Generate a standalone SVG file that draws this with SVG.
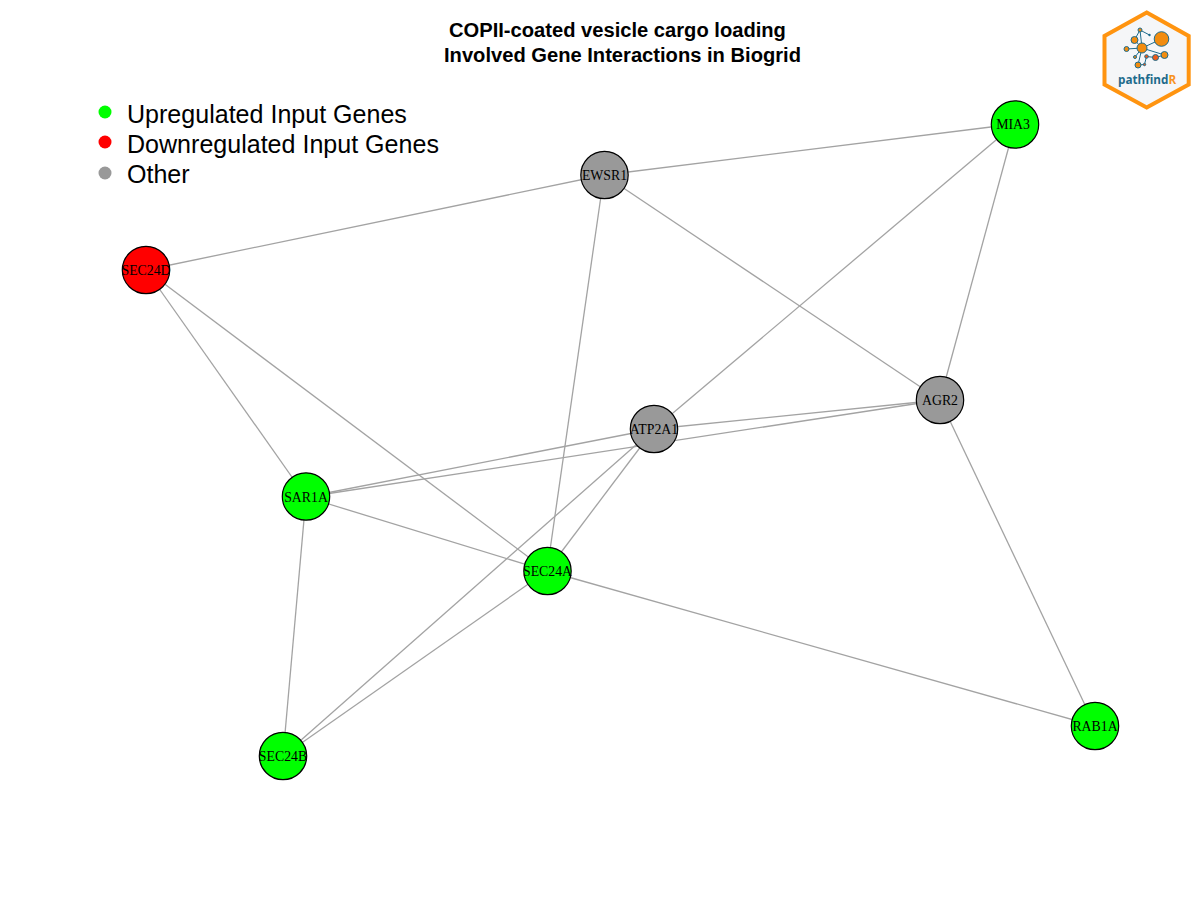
<svg xmlns="http://www.w3.org/2000/svg" width="1200" height="900" viewBox="0 0 1200 900">
<style>
.e{stroke:#a3a3a3;stroke-width:1.3;fill:none}
.n{stroke:#000;stroke-width:1.2}
.up{fill:#00ff00}.down{fill:#ff0000}.other{fill:#999999}
.nl{font-family:"Liberation Serif",serif;font-size:13.8px;text-anchor:middle;fill:#000}
.lg{font-family:"Liberation Sans",sans-serif;font-size:25.05px;fill:#000}
.t{font-family:"Liberation Sans",sans-serif;font-size:20.15px;font-weight:bold;fill:#000}
.ll{stroke:#1d6b8c;stroke-width:1;fill:none}
.lo{fill:#f28c0f;stroke:#1d6b8c;stroke-width:1}
.lr{fill:#ee5a1a;stroke:#1d6b8c;stroke-width:1}
</style>
<rect width="1200" height="900" fill="#fff"/>
<g id="title">
<text class="t" x="449" y="37">COPII-coated vesicle cargo loading</text>
<text class="t" x="444" y="62">Involved Gene Interactions in Biogrid</text>
</g>
<g id="legend">
<circle class="up" cx="105" cy="112" r="6.5"/>
<circle class="down" cx="105" cy="142" r="6.5"/>
<circle class="other" cx="105" cy="173" r="6.5"/>
<text class="lg" x="127" y="123">Upregulated Input Genes</text>
<text class="lg" x="127" y="153">Downregulated Input Genes</text>
<text class="lg" x="127" y="183">Other</text>
</g>
<g id="connectors">
<line class="e" x1="146" y1="270" x2="604" y2="175"/>
<line class="e" x1="604" y1="175" x2="1015" y2="124"/>
<line class="e" x1="604" y1="175" x2="940" y2="400"/>
<line class="e" x1="604" y1="175" x2="547" y2="571"/>
<line class="e" x1="1015" y1="124" x2="654" y2="429"/>
<line class="e" x1="1015" y1="124" x2="940" y2="400"/>
<line class="e" x1="940" y1="400" x2="654" y2="429"/>
<line class="e" x1="940" y1="400" x2="306" y2="497"/>
<line class="e" x1="940" y1="400" x2="1095" y2="726"/>
<line class="e" x1="654" y1="429" x2="306" y2="497"/>
<line class="e" x1="654" y1="429" x2="547" y2="571"/>
<line class="e" x1="654" y1="429" x2="283" y2="756"/>
<line class="e" x1="146" y1="270" x2="306" y2="497"/>
<line class="e" x1="146" y1="270" x2="547" y2="571"/>
<line class="e" x1="306" y1="497" x2="547" y2="571"/>
<line class="e" x1="306" y1="497" x2="283" y2="756"/>
<line class="e" x1="547" y1="571" x2="283" y2="756"/>
<line class="e" x1="547" y1="571" x2="1095" y2="726"/>
</g>
<g id="MIA3"><circle class="n up" cx="1015" cy="124.5" r="23.7"/><text class="nl" x="1013" y="129">MIA3</text></g>
<g id="EWSR1"><circle class="n other" cx="604.5" cy="175" r="23.7"/><text class="nl" x="604.5" y="179.5">EWSR1</text></g>
<g id="SEC24D"><circle class="n down" cx="146" cy="270" r="23.7"/><text class="nl" x="146" y="274.5">SEC24D</text></g>
<g id="AGR2"><circle class="n other" cx="940" cy="400" r="23.7"/><text class="nl" x="940" y="404.5">AGR2</text></g>
<g id="ATP2A1"><circle class="n other" cx="654" cy="429" r="23.7"/><text class="nl" x="654" y="433.5">ATP2A1</text></g>
<g id="SAR1A"><circle class="n up" cx="306" cy="496.500" r="23.7"/><text class="nl" x="306" y="501.5">SAR1A</text></g>
<g id="SEC24A"><circle class="n up" cx="547.500" cy="571" r="23.7"/><text class="nl" x="547.500" y="575.5">SEC24A</text></g>
<g id="SEC24B"><circle class="n up" cx="283" cy="756" r="23.7"/><text class="nl" x="283" y="760.5">SEC24B</text></g>
<g id="RAB1A"><circle class="n up" cx="1095" cy="726" r="23.7"/><text class="nl" x="1095" y="730.5">RAB1A</text></g>
<g id="logo">
<polygon points="1146.7,12.5 1188.7,36 1188.7,84.5 1146.7,107.5 1104.5,84.5 1104.5,36" fill="#f5f6f8" stroke="#ff9410" stroke-width="4"/>
<path class="ll" d="M1142,48 L1134.5,40 M1142,48 L1140,30 M1142,48 L1126.5,49 M1142,48 L1161.500,39 M1142,48 L1164.500,55 M1142,48 L1135,57 M1142,48 L1138,65 M1140,30 L1149.500,35 M1134.500,40 L1140,30 M1146.500,56.500 L1155.500,57.500 L1164.500,55 M1146.500,56.500 L1144.500,64.500 L1138,65"/>
<circle class="lo" cx="1161.500" cy="39" r="7.300"/>
<circle class="lo" cx="1142" cy="48" r="5"/>
<circle class="lo" cx="1134.500" cy="40" r="3.500"/>
<circle class="lo" cx="1126.500" cy="49" r="2.500"/>
<circle class="lo" cx="1140" cy="30" r="2"/>
<circle cx="1149.500" cy="35" r="1.200" fill="#1d6b8c"/>
<circle class="lo" cx="1164.500" cy="55" r="3.500"/>
<circle class="lr" cx="1155.500" cy="57.500" r="3"/>
<circle class="lr" cx="1146.500" cy="56.500" r="1.800"/>
<circle class="lo" cx="1135" cy="57" r="1.500"/>
<circle class="lo" cx="1138" cy="65" r="3"/>
<circle class="lr" cx="1144.500" cy="64.500" r="1.200"/>
<text x="1118" y="84" font-family="'Open Sans','Noto Sans',sans-serif" font-size="11.7" font-weight="bold" fill="#1d6b8c">pathfind<tspan fill="#f7931e">R</tspan></text>
</g>
</svg>
